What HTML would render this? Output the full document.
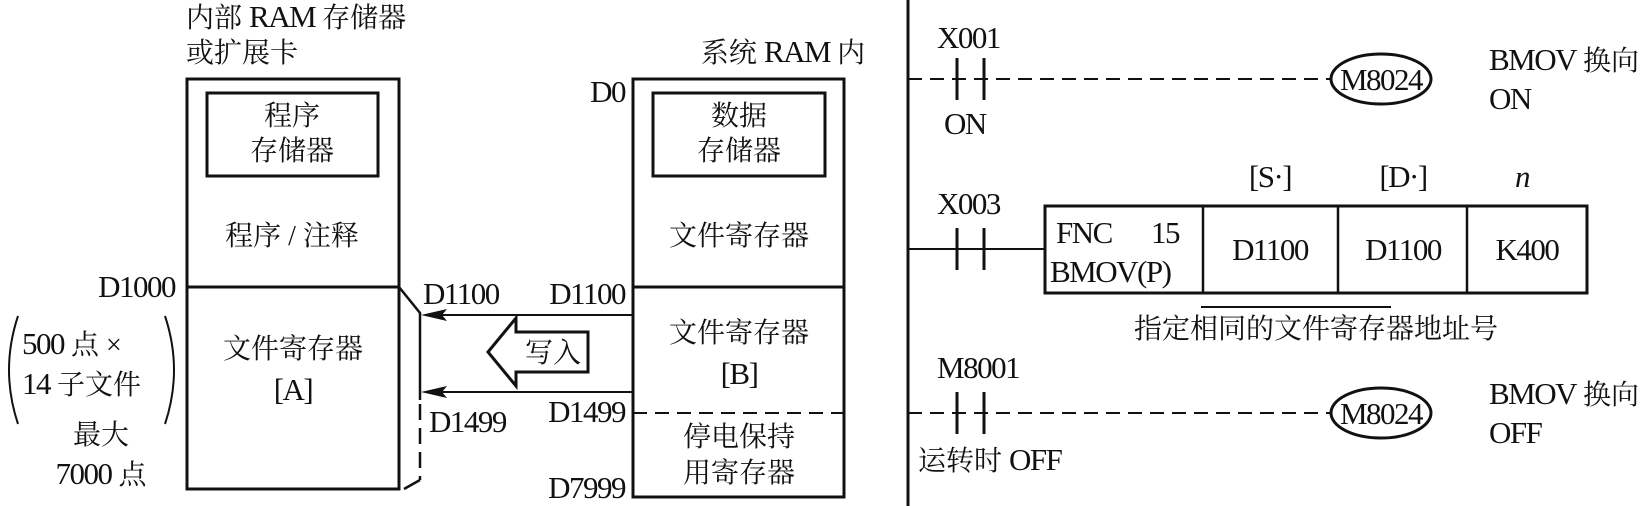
<!DOCTYPE html>
<html><head><meta charset="utf-8"><style>
html,body{margin:0;padding:0;background:#fff;}
svg{display:block;}
text{font-family:"Liberation Serif","Noto Serif CJK SC","Noto Sans CJK SC",serif;font-size:28px;fill:#111;}
.l{font-size:31px;letter-spacing:-1.5px;}
</style></head><body>
<svg width="1650" height="506" viewBox="0 0 1650 506" xmlns="http://www.w3.org/2000/svg">
<g stroke="#111" fill="none">
<rect x="187" y="79" width="212" height="410" stroke-width="3"/>
<line x1="187" y1="287" x2="399" y2="287" stroke-width="3"/>
<rect x="207" y="93" width="171" height="83" stroke-width="3"/>
<polyline points="399,287 420,313 420,400" stroke-width="2.5"/>
<line x1="420" y1="404" x2="420" y2="480" stroke-width="2.5" stroke-dasharray="16,8"/>
<line x1="420" y1="480" x2="404" y2="489" stroke-width="2.5"/>
<rect x="633" y="79" width="211" height="418" stroke-width="3"/>
<line x1="633" y1="287" x2="844" y2="287" stroke-width="3"/>
<line x1="633" y1="413" x2="844" y2="413" stroke-width="2" stroke-dasharray="14,8"/>
<rect x="653" y="93" width="172" height="83" stroke-width="3"/>
<line x1="633" y1="315" x2="430" y2="315" stroke-width="2"/>
<line x1="633" y1="392" x2="430" y2="392" stroke-width="2"/>
<path d="M488,352 L516,318 L516,332 L588,332 L588,372 L516,372 L516,386 Z" stroke-width="3"/>
<path d="M18,316 Q0,370 18,424" stroke-width="2"/>
<path d="M165,316 Q183,370 165,424" stroke-width="2"/>
<line x1="908" y1="0" x2="908" y2="506" stroke-width="3"/>
<line x1="908" y1="79" x2="1335" y2="79" stroke-width="2" stroke-dasharray="14,8"/>
<line x1="957" y1="58" x2="957" y2="100" stroke-width="3"/>
<line x1="984" y1="58" x2="984" y2="100" stroke-width="3"/>
<ellipse cx="1381" cy="79" rx="50" ry="25" stroke-width="3" fill="#fff"/>
<line x1="908" y1="249" x2="1045" y2="249" stroke-width="2"/>
<line x1="957" y1="228" x2="957" y2="270" stroke-width="3"/>
<line x1="984" y1="228" x2="984" y2="270" stroke-width="3"/>
<rect x="1045" y="206" width="542" height="87" stroke-width="3"/>
<line x1="1203" y1="206" x2="1203" y2="293" stroke-width="2.5"/>
<line x1="1338" y1="206" x2="1338" y2="293" stroke-width="2.5"/>
<line x1="1467" y1="206" x2="1467" y2="293" stroke-width="2.5"/>
<line x1="1201" y1="307" x2="1391" y2="307" stroke-width="2"/>
<line x1="908" y1="413" x2="1335" y2="413" stroke-width="2" stroke-dasharray="14,8"/>
<line x1="957" y1="392" x2="957" y2="434" stroke-width="3"/>
<line x1="984" y1="392" x2="984" y2="434" stroke-width="3"/>
<ellipse cx="1381" cy="413" rx="50" ry="25" stroke-width="3" fill="#fff"/>
</g>
<path d="M421,315 L447,309 L442,315 L447,321 Z" fill="#111"/>
<path d="M421,392 L447,386 L442,392 L447,398 Z" fill="#111"/>
<text x="186" y="27">内部 <tspan class="l">RAM</tspan> 存储器</text>
<text x="186" y="62">或扩展卡</text>
<text x="292" y="125" text-anchor="middle">程序</text>
<text x="292" y="160" text-anchor="middle">存储器</text>
<text x="292" y="245" text-anchor="middle">程序 / 注释</text>
<text class="l" x="175" y="297" text-anchor="end">D1000</text>
<text x="22" y="354"><tspan class="l">500</tspan> 点 ×</text>
<text x="22" y="394"><tspan class="l">14</tspan> 子文件</text>
<text x="101" y="444" text-anchor="middle">最大</text>
<text x="101" y="484" text-anchor="middle"><tspan class="l">7000</tspan> 点</text>
<text x="293" y="358" text-anchor="middle">文件寄存器</text>
<text class="l" x="293" y="400" text-anchor="middle">[A]</text>
<text class="l" x="423" y="304">D1100</text>
<text class="l" x="429" y="432">D1499</text>
<text x="553" y="362" text-anchor="middle">写入</text>
<text x="783" y="62" text-anchor="middle">系统 <tspan class="l">RAM</tspan> 内</text>
<text x="739" y="125" text-anchor="middle">数据</text>
<text x="739" y="160" text-anchor="middle">存储器</text>
<text x="739" y="245" text-anchor="middle">文件寄存器</text>
<text x="739" y="342" text-anchor="middle">文件寄存器</text>
<text class="l" x="739" y="384" text-anchor="middle">[B]</text>
<text x="739" y="446" text-anchor="middle">停电保持</text>
<text x="739" y="482" text-anchor="middle">用寄存器</text>
<text class="l" x="625" y="102" text-anchor="end">D0</text>
<text class="l" x="625" y="304" text-anchor="end">D1100</text>
<text class="l" x="625" y="422" text-anchor="end">D1499</text>
<text class="l" x="625" y="498" text-anchor="end">D7999</text>
<text class="l" x="937" y="48">X001</text>
<text class="l" x="944" y="134">ON</text>
<text class="l" x="1381" y="90" text-anchor="middle">M8024</text>
<text x="1489" y="70"><tspan class="l">BMOV</tspan> 换向</text>
<text class="l" x="1489" y="109">ON</text>
<text class="l" x="937" y="214">X003</text>
<text class="l" x="1270" y="187" text-anchor="middle">[S·]</text>
<text class="l" x="1403" y="187" text-anchor="middle">[D·]</text>
<text class="l" x="1522" y="187" text-anchor="middle" font-style="italic">n</text>
<text class="l" x="1056" y="243">FNC</text>
<text class="l" x="1151" y="243">15</text>
<text class="l" x="1050" y="282">BMOV(P)</text>
<text class="l" x="1270" y="260" text-anchor="middle">D1100</text>
<text class="l" x="1403" y="260" text-anchor="middle">D1100</text>
<text class="l" x="1527" y="260" text-anchor="middle">K400</text>
<text x="1316" y="338" text-anchor="middle">指定相同的文件寄存器地址号</text>
<text class="l" x="937" y="378">M8001</text>
<text class="l" x="1381" y="424" text-anchor="middle">M8024</text>
<text x="1489" y="404"><tspan class="l">BMOV</tspan> 换向</text>
<text class="l" x="1489" y="443">OFF</text>
<text x="918" y="470">运转时 <tspan class="l">OFF</tspan></text>
</svg>
</body></html>
